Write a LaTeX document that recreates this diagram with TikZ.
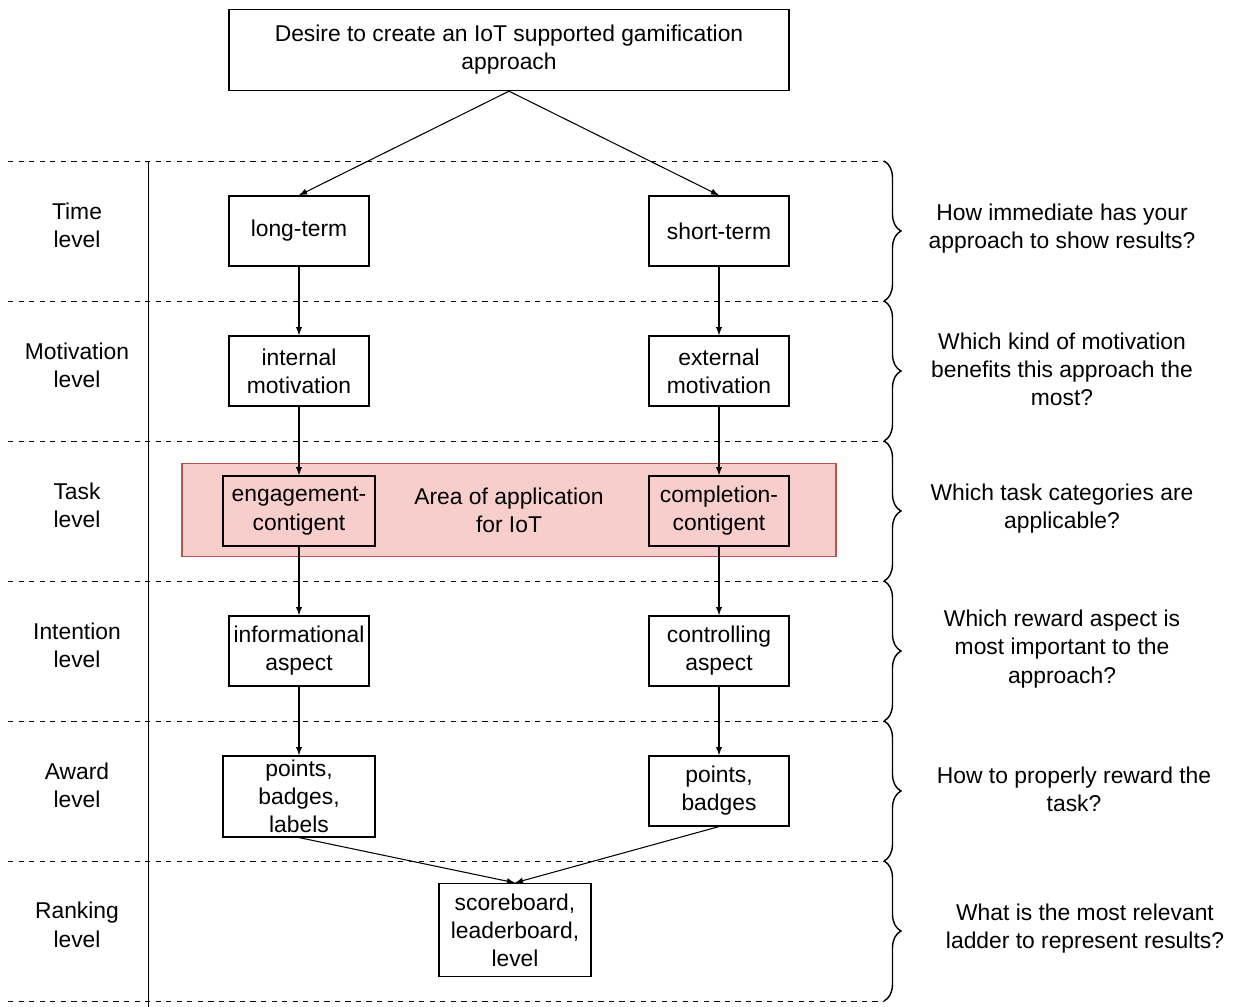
\documentclass[tikz,border=0pt]{standalone}
\usepackage{fontspec}
\setmainfont{Liberation Sans}
\usetikzlibrary{positioning}
\usetikzlibrary{arrows.meta}
\usetikzlibrary{decorations.pathreplacing}
\definecolor{areafill}{HTML}{F8CECC}
\definecolor{areadraw}{HTML}{B85450}

\begin{document}
\begin{tikzpicture}[x=0.02cm,y=-0.02cm,every node/.style={font=\fontsize{13}{16}\selectfont,align=center},node distance=2.8cm,on grid]
	
	\tikzstyle{box}=[rectangle,draw=black,thick,inner sep=0pt,minimum width=2.8cm,minimum height=1.4cm]
	\tikzstyle{wide box}=[box,minimum width=3.04cm]
	\tikzstyle{levelname}=[inner sep=0pt]
	\tikzstyle{question}=[inner sep=0pt]
	\tikzstyle{sep}=[black,dashed,thin]
	\tikzstyle{bracket}=[black,thick,decorate,decoration={brace,amplitude=0.34cm,aspect=0.5}]
	\tikzstyle{link}=[-latex,semithick]
	
	\useasboundingbox (0,0) rectangle (1235,1007);
	
	% Levels:
	\draw[sep] (8,161) -- (884,161);
	\draw[sep] (8,301) -- (884,301);
	\draw[sep] (8,441) -- (884,441);
	\draw[sep] (8,581) -- (884,581);
	\draw[sep] (8,721) -- (884,721);
	\draw[sep] (8,861) -- (884,861);
	\draw[sep] (8,1001) -- (884,1001);
	\draw[black,thin] (148,161) -- (148,1007);
	
	\node[levelname] (time) at (77,225) {Time\\level};
	\node[levelname] (motiv) [below of=time] {Motivation\\level};
	\node[levelname] (task) [below of=motiv] {Task\\level};
	\node[levelname] (intent) [below of=task] {Intention\\level};
	\node[levelname] (award) [below of=intent] {Award\\level};
	\node[levelname] (ranking) [below of=award] {Ranking\\level};
	
	% Questions:
	\draw[bracket] (884,161) -- (884,301);
	\draw[bracket] (884,301) -- (884,441);
	\draw[bracket] (884,441) -- (884,581);
	\draw[bracket] (884,581) -- (884,721);
	\draw[bracket] (884,721) -- (884,861);
	\draw[bracket] (884,861) -- (884,1001);
	
	\node[question] (q1) at (1062,229) {How immediate has your\\approach to show results?};
	\node[question] (q2) at (1062,369) {Which kind of motivation\\benefits this approach the\\most?};
	\node[question] (q3) at (1062,509) {Which task categories are\\applicable?};
	\node[question] (q4) at (1062,649) {Which reward aspect is\\most important to the\\approach?};
	\node[question] (q5) at (1074,789) {How to properly reward the\\task?};
	\node[question] (q6) at (1085,929) {What is the most relevant\\ladder to represent results?};
	
	% Area of application:
	\node[draw=areadraw,fill=areafill,thick,minimum width=13.08cm,minimum height=1.86cm] (iot) at (509,510) {Area of application\\for IoT};
	
	% Boxes:
	\node[box,minimum width=11.2cm,minimum height=1.62cm] (goal) at (509,50) {Desire to create an IoT supported gamification\\approach};
	
	\node[box] (long) at (299,231) {long-term};
	\node[box] (internal) [below of=long] {internal\\motivation};
	\node[wide box] (engage) [below of=internal] {engagement-\\contigent};
	\node[box] (inform) [below of=engage] {informational\\aspect};
	\node[wide box,minimum height=1.62cm,yshift=-0.11cm] (pbl) [below of=inform] {points,\\badges,\\labels};
	
	\node[box] (short) at (719,231) {short-term};
	\node[box] (external) [below of=short] {external\\motivation};
	\node[box] (complete) [below of=external] {completion-\\contigent};
	\node[box] (control) [below of=complete] {controlling\\aspect};
	\node[box] (pb) [below of=control] {points,\\badges};
	
	\node[wide box,minimum height=1.86cm] (rank) at (515,930) {scoreboard,\\leaderboard,\\level};
	
	\draw[link] (goal.south) -- (long.north);
	\draw[link] (goal.south) -- (short.north);
	\draw[link] (long) -- (internal);
	\draw[link] (internal) -- (engage);
	\draw[link] (engage) -- (inform);
	\draw[link] (inform) -- (pbl);
	\draw[link] (short) -- (external);
	\draw[link] (external) -- (complete);
	\draw[link] (complete) -- (control);
	\draw[link] (control) -- (pb);
	\draw[link] (pbl.south) -- (rank.north);
	\draw[link] (pb.south) -- (rank.north);
	
\end{tikzpicture}
\end{document}
